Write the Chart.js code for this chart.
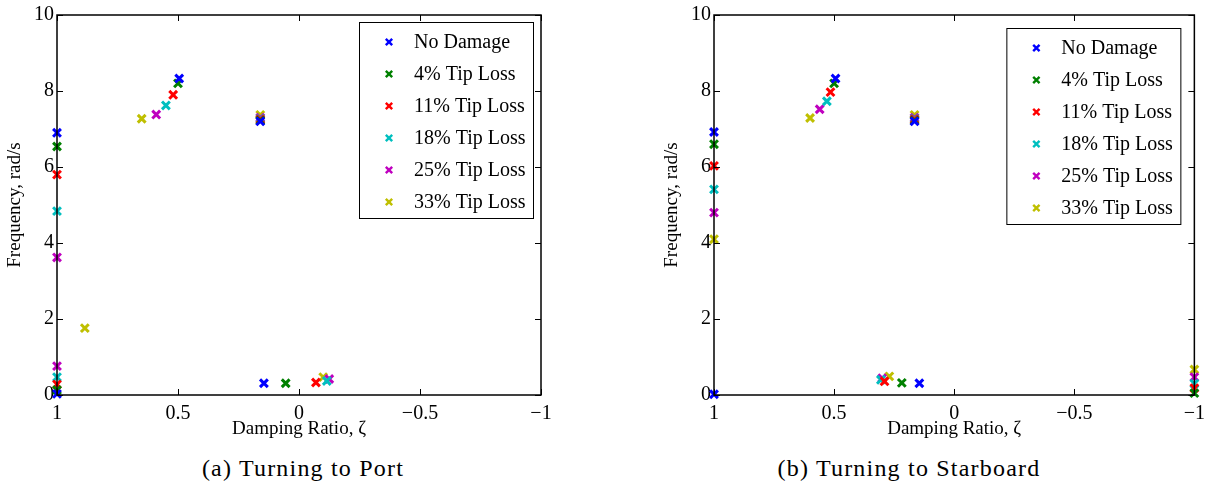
<!DOCTYPE html>
<html>
<head>
<meta charset="utf-8">
<script src="https://cdn.jsdelivr.net/npm/chart.js@4.4.1/dist/chart.umd.min.js"></script>
<style>
  html, body { margin: 0; padding: 0; background: #fff; }
  #wrap { position: relative; width: 1212px; height: 488px; }
  .panel { position: absolute; top: 0; width: 606px; height: 440px; }
  .caption { position: absolute; top: 455px; width: 606px; text-align: center;
    font-family: "Liberation Serif", serif; font-size: 24px; letter-spacing: 1.2px; color: #000; }
</style>
</head>
<body>
<div id="wrap">
  <div class="panel" style="left:0"><canvas id="portChart" width="606" height="440"></canvas></div>
  <div class="panel" style="left:606px"><canvas id="starChart" width="606" height="440"></canvas></div>
  <div class="caption" style="left:0">(a) Turning to Port</div>
  <div class="caption" style="left:606px">(b) Turning to Starboard</div>
</div>
<script>
// series names and colours (matlab default order)
const seriesLabels = ['No Damage', '4% Tip Loss', '11% Tip Loss', '18% Tip Loss', '25% Tip Loss', '33% Tip Loss'];
const seriesColors = ['#0000ff', '#008000', '#ff0000', '#00bfbf', '#bf00bf', '#bfbf00'];

// axis ticks
const xTicks = [1, 0.5, 0, -0.5, -1];
const yTicks = [0, 2, 4, 6, 8, 10];

// (a) turning to port: [damping ratio, frequency]
const portNoDamage = [[1, 6.9], [0.495, 8.33], [0.16, 7.2], [0.145, 0.31], [1, 0.03]];
const portTip4 = [[1, 6.54], [0.5, 8.2], [0.16, 7.22], [0.055, 0.31], [1, 0.13]];
const portTip11 = [[1, 5.8], [0.52, 7.9], [0.16, 7.25], [-0.07, 0.33], [1, 0.28]];
const portTip18 = [[1, 4.84], [0.55, 7.62], [0.16, 7.27], [-0.115, 0.37], [1, 0.47]];
const portTip25 = [[1, 3.62], [0.59, 7.38], [0.16, 7.3], [-0.125, 0.42], [1, 0.76]];
const portTip33 = [[0.65, 7.27], [0.16, 7.37], [-0.1, 0.47], [0.885, 1.76]];

// (b) turning to starboard
const starNoDamage = [[1, 6.92], [0.494, 8.33], [0.165, 7.2], [0.145, 0.31], [1, 0.02]];
const starTip4 = [[1, 6.6], [0.5, 8.2], [0.165, 7.22], [0.218, 0.32], [-1, 0.05]];
const starTip11 = [[1, 6.03], [0.515, 7.97], [0.165, 7.25], [0.29, 0.36], [-1, 0.18]];
const starTip18 = [[1, 5.41], [0.53, 7.73], [0.165, 7.27], [0.305, 0.4], [-1, 0.3]];
const starTip25 = [[1, 4.8], [0.56, 7.52], [0.165, 7.3], [0.3, 0.44], [-1, 0.47]];
const starTip33 = [[1, 4.1], [0.6, 7.29], [0.165, 7.37], [0.27, 0.49], [-1, 0.67]];

const serif = '"Liberation Serif", "Times New Roman", serif';

function fmtTick(v) {
  return v < 0 ? '\u2212' + Math.abs(v) : String(v);
}

// box frame with inward ticks on all four sides
const framePlugin = {
  id: 'frame',
  afterDraw(chart) {
    const { ctx, chartArea: a, scales } = chart;
    ctx.save();
    ctx.strokeStyle = '#000';
    ctx.lineWidth = 1.5;
    ctx.strokeRect(a.left, a.top, a.right - a.left, a.bottom - a.top);
    ctx.lineWidth = 1;
    ctx.beginPath();
    xTicks.forEach(v => {
      const px = Math.round(scales.x.getPixelForValue(v)) + 0.5;
      ctx.moveTo(px, a.bottom); ctx.lineTo(px, a.bottom - 6);
      ctx.moveTo(px, a.top); ctx.lineTo(px, a.top + 6);
    });
    yTicks.forEach(v => {
      const py = Math.round(scales.y.getPixelForValue(v)) + 0.5;
      ctx.moveTo(a.left, py); ctx.lineTo(a.left + 6, py);
      ctx.moveTo(a.right, py); ctx.lineTo(a.right - 6, py);
    });
    ctx.stroke();
    ctx.restore();
  }
};

// legend drawn inside the plot in a white box
const boxLegendPlugin = {
  id: 'boxLegend',
  afterDatasetsDraw(chart, args, opts) {
    const { ctx, chartArea: a } = chart;
    const w = 174, h = 196;
    const left = a.right - opts.right - w;
    const top = a.top + opts.top;
    ctx.save();
    ctx.fillStyle = '#fff';
    ctx.fillRect(left, top, w, h);
    ctx.strokeStyle = '#000';
    ctx.lineWidth = 1;
    ctx.strokeRect(left + 0.5, top + 0.5, w, h);
    ctx.font = '20px ' + serif;
    ctx.textBaseline = 'middle';
    chart.data.datasets.forEach((ds, i) => {
      const y = top + 20 + i * 32;
      ctx.strokeStyle = ds.borderColor;
      ctx.fillStyle = ds.borderColor;
      ctx.lineWidth = 2.4;
      Chart.helpers.drawPoint(ctx, { pointStyle: 'crossRot', radius: 4.5, rotation: 0, borderWidth: 2.4 }, left + 30, y);
      ctx.fillStyle = '#000';
      ctx.fillText(ds.label, left + 55, y + 1);
    });
    ctx.restore();
  }
};

function renderPanel(canvasId, series, padLeft, padRight, legendPos) {
  const el = document.getElementById(canvasId);
  new Chart(el, {
    type: 'scatter',
    data: {
      datasets: series.map((pts, i) => ({
        label: seriesLabels[i],
        data: pts.map(p => ({ x: p[0], y: p[1] })),
        borderColor: seriesColors[i],
        backgroundColor: seriesColors[i],
        pointStyle: 'crossRot',
        pointRadius: 5.5,
        pointBorderWidth: 3,
        pointHoverRadius: 5.5,
        clip: false,
      }))
    },
    options: {
      responsive: false,
      animation: false,
      events: [],
      layout: { padding: { left: padLeft, right: padRight, top: 13, bottom: 0 } },
      scales: {
        x: {
          type: 'linear', min: -1, max: 1, reverse: true,
          afterBuildTicks: s => { s.ticks = xTicks.map(v => ({ value: v })); },
          afterFit: s => { s.height = 45; },
          grid: { display: false, drawTicks: false },
          border: { display: false },
          ticks: { color: '#000', font: { family: serif, size: 20 }, padding: 7, maxRotation: 0, callback: fmtTick },
          title: { display: true, text: 'Damping Ratio, \u03b6', color: '#000', font: { family: serif, size: 19 }, padding: { top: 0, bottom: 0 } }
        },
        y: {
          type: 'linear', min: 0, max: 10,
          afterBuildTicks: s => { s.ticks = yTicks.map(v => ({ value: v })); },
          afterFit: s => { s.width = 57; },
          grid: { display: false, drawTicks: false },
          border: { display: false },
          ticks: { color: '#000', font: { family: serif, size: 20 }, padding: 3, callback: fmtTick },
          title: { display: true, text: 'Frequency, rad/s', color: '#000', font: { family: serif, size: 19 }, padding: { top: 4, bottom: 0 } }
        }
      },
      plugins: {
        legend: { display: false },
        tooltip: { enabled: false },
        boxLegend: legendPos
      }
    },
    plugins: [framePlugin, boxLegendPlugin]
  });
}

renderPanel('portChart', [portNoDamage, portTip4, portTip11, portTip18, portTip25, portTip33], 0, 65, { right: 8, top: 7 });
renderPanel('starChart', [starNoDamage, starTip4, starTip11, starTip18, starTip25, starTip33], 51, 8, { right: 14, top: 13 });
</script>
</body>
</html>
